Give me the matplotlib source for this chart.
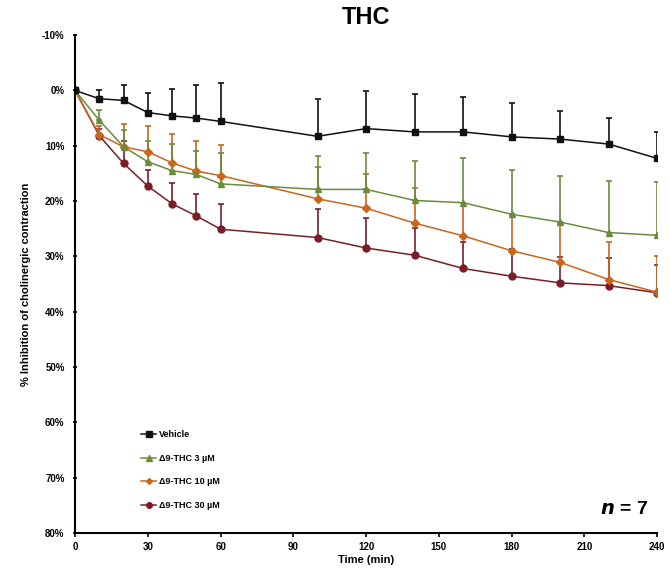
import numpy as np
import matplotlib.pyplot as plt
from matplotlib.lines import Line2D
from matplotlib.ticker import FuncFormatter

plt.rcParams["font.family"] = ["Liberation Sans", "DejaVu Sans"]
plt.rcParams["font.weight"] = "bold"

time = [0, 10, 20, 30, 40, 50, 60, 100, 120, 140, 160, 180, 200, 220, 240]

vehicle = [0, 1.5, 1.8, 4.0, 4.6, 5.0, 5.6, 8.3, 6.9, 7.5, 7.5, 8.4, 8.8, 9.7, 12.3]
vehicle_err = [0, 1.5, 2.7, 3.5, 4.9, 6.0, 6.9, 6.7, 6.8, 6.9, 6.4, 6.1, 5.0, 4.8, 4.8]

thc3 = [0, 5.4, 10.2, 12.9, 14.5, 15.2, 16.9, 17.9, 17.9, 19.9, 20.3, 22.4, 23.8, 25.7, 26.2]
thc3_err = [0, 1.9, 3.0, 3.8, 4.9, 4.3, 5.5, 6.0, 6.5, 7.1, 8.0, 8.0, 8.3, 9.4, 9.6]

thc10 = [0, 8.0, 10.2, 11.1, 13.1, 14.6, 15.4, 19.6, 21.3, 24.0, 26.3, 29.0, 31.1, 34.2, 36.5]
thc10_err = [0, 1.5, 4.1, 4.7, 5.2, 5.5, 5.5, 5.7, 6.2, 6.4, 6.0, 6.5, 7.0, 6.7, 6.5]

thc30 = [0, 8.2, 13.2, 17.3, 20.5, 22.7, 25.1, 26.6, 28.5, 29.8, 32.2, 33.6, 34.8, 35.3, 36.6]
thc30_err = [0, 1.2, 4.1, 3.0, 3.7, 4.0, 4.5, 5.2, 5.4, 5.0, 4.7, 5.0, 4.7, 5.0, 5.1]

series = [
    ("Vehicle", vehicle, vehicle_err, "#111111", "s", 5),
    ("\u03949-THC 3 \u00b5M", thc3, thc3_err, "#6a8c3c", "^", 5),
    ("\u03949-THC 10 \u00b5M", thc10, thc10_err, "#c8661e", "D", 4),
    ("\u03949-THC 30 \u00b5M", thc30, thc30_err, "#7a1e26", "o", 5),
]

fig = plt.figure(figsize=(6.7, 5.76), dpi=100)
ax = fig.add_axes([0.112, 0.075, 0.869, 0.864])

handles = []
# draw the last series first so vehicle ends up on top
for label, vals, err, color, marker, ms in series[::-1]:
    err = np.array(err)
    yerr = np.vstack([err, np.zeros_like(err)])
    ax.errorbar(time, vals, yerr=yerr, color=color, marker=marker,
                markersize=ms, linewidth=1.1, elinewidth=1.2, capsize=2,
                capthick=1.2)
    handles.insert(0, Line2D([], [], color=color, marker=marker,
                             markersize=ms - 1, linewidth=1.1, label=label))

ax.set_xlim(0, 240)
ax.set_ylim(80, -10)
ax.set_xticks(range(0, 241, 30))
ax.set_yticks(range(-10, 81, 10))
ax.yaxis.set_major_formatter(FuncFormatter(lambda v, p: f"{int(v)}%"))

ax.spines["top"].set_visible(False)
ax.spines["right"].set_visible(False)
ax.spines["left"].set_linewidth(1.5)
ax.spines["bottom"].set_linewidth(1.5)
ax.tick_params(axis="both", labelsize=7, width=1.2, length=3)
ax.tick_params(axis="y", direction="inout", pad=6)

ax.set_title("THC", fontsize=17, fontweight="bold", pad=8)
ax.set_xlabel("Time (min)", fontsize=8, fontweight="bold", labelpad=2)
ax.set_ylabel("% Inhibition of cholinergic contraction", fontsize=8,
              fontweight="bold", labelpad=8)

ax.legend(handles=handles, loc="lower left",
          bbox_to_anchor=(0.1, 0.03), frameon=False, fontsize=6.5,
          handlelength=1.6, labelspacing=1.6, handletextpad=0.3)

ax.text(0.985, 0.03, r"$\bf{\it{n}}$ = 7", transform=ax.transAxes,
        ha="right", va="bottom", fontsize=14, fontweight="bold")

plt.savefig("out.png", dpi=100)
plt.close()
